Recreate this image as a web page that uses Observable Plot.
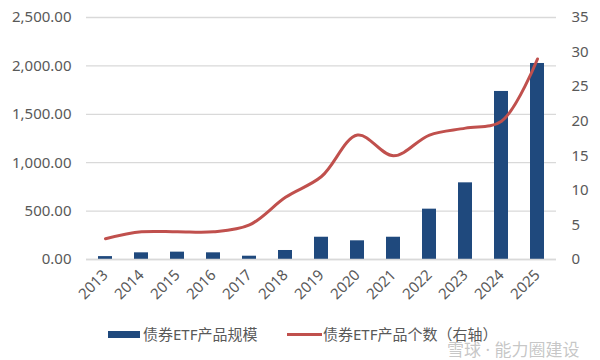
<!DOCTYPE html>
<html>
<head>
<meta charset="utf-8">
<script src="https://cdn.jsdelivr.net/npm/d3@7"></script>
<script src="https://cdn.jsdelivr.net/npm/@observablehq/plot@0.6"></script>
<style>
  html, body { margin: 0; padding: 0; background: #fff; }
  #wrap { position: relative; width: 600px; height: 360px; font-family: "Noto Sans", "Noto Sans CJK SC", sans-serif; color: #595959; overflow: hidden; }
  #chart svg { display: block; }
  .leg { position: absolute; font-size: 15px; line-height: 16px; white-space: nowrap; }
  .wm { position: absolute; font-size: 17px; line-height: 17px; color: rgba(150,150,150,0.55); white-space: nowrap; }
</style>
</head>
<body>
<div id="wrap">
  <div id="chart"></div>
</div>
<script>
const years = ["2013","2014","2015","2016","2017","2018","2019","2020","2021","2022","2023","2024","2025"];
const etfScale = [30, 69, 76, 69, 34, 93, 230, 193, 230, 520, 792, 1736, 2025];
const etfCount = [3, 4, 4, 4, 5, 9, 12, 18, 15, 18, 19, 20, 29];
const leftTicks = [0, 500, 1000, 1500, 2000, 2500];
const rightTicks = [0, 5, 10, 15, 20, 25, 30, 35];
const seriesNames = ["债券ETF产品规模", "债券ETF产品个数（右轴）"];
const watermark = "雪球 · 能力圈建设";

const leftMax = 2500, rightMax = 35;
const k = leftMax / rightMax;
const table = years.map((y, i) => ({year: y, scale: etfScale[i], count: etfCount[i]}));

const blue = "#1f497d", red = "#c0504d";

const chart = Plot.plot({
  width: 600,
  height: 315,
  marginLeft: 86,
  marginRight: 44,
  marginTop: 17,
  marginBottom: 56,
  x: {domain: years, paddingInner: 0.6, paddingOuter: 0.3, label: null},
  y: {domain: [0, leftMax], label: null},
  style: {fontFamily: '"Noto Sans", "Noto Sans CJK SC", sans-serif', fontSize: "15px", color: "#595959", background: "white"},
  marks: [
    Plot.gridY(leftTicks, {stroke: "#d9d9d9", strokeOpacity: 1, strokeWidth: 1.3}),
    Plot.axisY(leftTicks, {anchor: "left", tickSize: 0, tickPadding: 15, tickFormat: d3.format(",.2f"), fontSize: 15, fill: "#595959", label: null}),
    Plot.axisY(rightTicks.map(v => v * k), {anchor: "right", tickSize: 0, tickPadding: 15, tickFormat: d => String(Math.round(d / k)), fontSize: 15, fill: "#595959", label: null}),
    Plot.barY(table, {x: "year", y: "scale", fill: blue}),
    Plot.ruleY([0], {stroke: "#d9d9d9", strokeWidth: 1.5}),
    Plot.line(table, {x: "year", y: d => d.count * k, stroke: red, strokeWidth: 3, curve: "catmull-rom"}),
    Plot.axisX({tickRotate: -45, tickSize: 0, tickPadding: 13, fontSize: 15, fill: "#595959", label: null})
  ]
});
document.getElementById("chart").appendChild(chart);

const wrap = document.getElementById("wrap");
function add(html) { const t = document.createElement("div"); t.innerHTML = html; wrap.appendChild(t.firstElementChild); }
add(`<div style="position:absolute;left:108px;top:331px;width:32px;height:7px;background:${blue}"></div>`);
add(`<div class="leg" style="left:143px;top:326px">${seriesNames[0]}</div>`);
add(`<div style="position:absolute;left:287px;top:333px;width:35px;height:3px;background:${red}"></div>`);
add(`<div class="leg" style="left:323px;top:326px">${seriesNames[1]}</div>`);
add(`<div class="wm" style="left:447px;top:341px">${watermark}</div>`);
</script>
</body>
</html>
